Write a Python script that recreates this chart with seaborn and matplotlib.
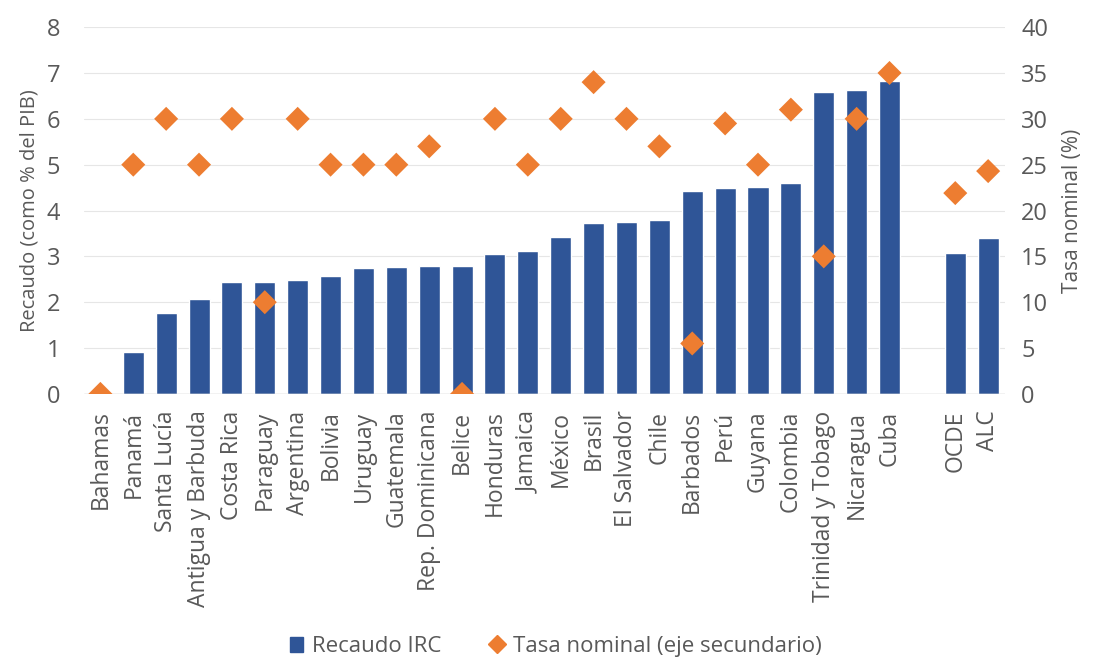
import numpy as np
import pandas as pd
import seaborn as sns
import matplotlib.pyplot as plt
from matplotlib.lines import Line2D
from matplotlib.patches import Patch

# datos
paises = ["Bahamas", "Panamá", "Santa Lucía", "Antigua y Barbuda", "Costa Rica",
          "Paraguay", "Argentina", "Bolivia", "Uruguay", "Guatemala",
          "Rep. Dominicana", "Belice", "Honduras", "Jamaica", "México", "Brasil",
          "El Salvador", "Chile", "Barbados", "Perú", "Guyana", "Colombia",
          "Trinidad y Tobago", "Nicaragua", "Cuba", " ", "OCDE", "ALC"]
recaudo = [0.0, 0.92, 1.77, 2.08, 2.43, 2.45, 2.49, 2.57, 2.75, 2.77,
           2.79, 2.79, 3.05, 3.11, 3.42, 3.72, 3.75, 3.79, 4.42, 4.50,
           4.52, 4.61, 6.58, 6.62, 6.82, np.nan, 3.07, 3.39]
tasa = [0, 25, 30, 25, 30, 10, 30, 25, 25, 25,
        27, 0, 30, 25, 30, 34, 30, 27, 5.5, 29.5,
        25, 31, 15, 30, 35, np.nan, 21.9, 24.3]

df = pd.DataFrame({"pais": paises, "recaudo": recaudo, "tasa": tasa})

azul = "#2F5597"
naranja = "#ED7D31"
gris = "#595959"

sns.set_style("white")
plt.rcParams["font.family"] = ["Open Sans", "DejaVu Sans"]

fig = plt.figure(figsize=(10.96, 6.62), dpi=100)
ax = fig.add_axes([0.0766, 0.405, 0.840, 0.554])

sns.barplot(data=df, x="pais", y="recaudo", order=paises, color=azul,
            width=0.64, saturation=1, ax=ax, errorbar=None)
ax.set_ylim(0, 8)
ax.set_yticks(range(0, 9))
ax.set_xlim(-0.5, len(paises) - 0.5)
ax.grid(axis="y", color="#E6E6E6", linewidth=0.8)
ax.set_axisbelow(True)
for s in ax.spines.values():
    s.set_visible(False)
ax.axhline(0, color="#C8C8C8", linewidth=1, zorder=1)
ax.set_xlabel("")
ax.set_ylabel("Recaudo (como % del PIB)", fontsize=14.5, color=gris, labelpad=5)
ax.tick_params(axis="y", length=0, labelsize=17, labelcolor=gris, pad=17)
ax.tick_params(axis="x", length=0, labelsize=16.5, labelcolor=gris, rotation=90, pad=12)

ax2 = ax.twinx()
pos = np.arange(len(paises))
sns.scatterplot(x=pos, y=df["tasa"], marker="D", s=150, color=naranja,
                edgecolor="none", ax=ax2, zorder=3, legend=False)
ax2.set_ylim(0, 40)
ax2.set_yticks(range(0, 45, 5))
for s in ax2.spines.values():
    s.set_visible(False)
ax2.set_ylabel("Tasa nominal (%)", fontsize=15, color=gris, labelpad=10)
ax2.tick_params(axis="y", length=0, labelsize=17, labelcolor=gris, pad=12)
ax2.set_xlim(-0.5, len(paises) - 0.5)

handles = [Patch(color=azul, label="Recaudo IRC"),
           Line2D([], [], marker="D", linestyle="none", color=naranja,
                  markersize=9, label="Tasa nominal (eje secundario)")]
fig.legend(handles=handles, loc="center", bbox_to_anchor=(0.507, 0.023), ncol=2,
           frameon=False, fontsize=16, labelcolor=gris, handlelength=0.6,
           handletextpad=0.4, columnspacing=2.2)

fig.savefig("out.png", dpi=100)
